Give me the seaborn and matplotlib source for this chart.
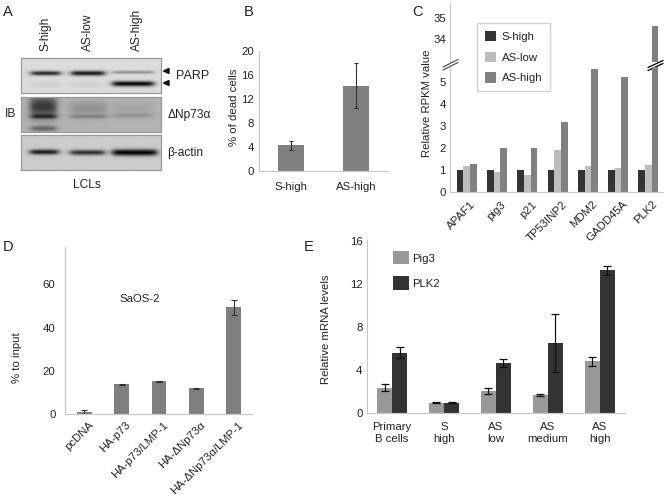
import numpy as np
import pandas as pd
import matplotlib
matplotlib.use("Agg")
import matplotlib.pyplot as plt
from matplotlib.lines import Line2D
from matplotlib.patches import Polygon, Patch
from matplotlib.transforms import ScaledTranslation
import seaborn as sns

sns.set_theme(style="white")
plt.rcParams['font.family'] = ['Liberation Sans', 'DejaVu Sans']
plt.rcParams['font.size'] = 8.2
plt.rcParams['text.color'] = '#222222'
plt.rcParams['axes.labelcolor'] = '#222222'
plt.rcParams['xtick.color'] = '#222222'
plt.rcParams['ytick.color'] = '#222222'

W, H = 667, 497
fig = plt.figure(figsize=(W / 100, H / 100), dpi=100)
SPINE = '#c9c9c9'
FS = 8.2

# ---- data ----
b_groups = ['S-high', 'AS-high']
b_vals = [4.25, 14.2]
b_low = [3.5, 10.5]
b_high = [4.93, 18.0]

c_genes = ['APAF1', 'pig3', 'p21', 'TP53INP2', 'MDM2', 'GADD45A', 'PLK2']
c_shigh = [1, 1, 1, 1, 1, 1, 1]
c_aslow = [1.2, 0.93, 0.78, 1.9, 1.2, 1.1, 1.25]
c_ashigh = [1.28, 2.0, 2.0, 3.2, 5.6, 5.2, 34.6]
c_series = ['S-high', 'AS-low', 'AS-high']

d_groups = ['pcDNA', 'HA-p73', 'HA-p73/LMP-1', 'HA-ΔNp73α', 'HA-ΔNp73α/LMP-1']
d_vals = [1.0, 13.8, 15.3, 12.0, 49.3]
d_err = [1.2, 0.2, 0.2, 0.3, 3.3]

e_groups = ['Primary\nB cells', 'S\nhigh', 'AS\nlow', 'AS\nmedium', 'AS\nhigh']
e_pig3 = [2.35, 0.95, 2.05, 1.65, 4.8]
e_pig3_err = [0.3, 0.03, 0.3, 0.1, 0.45]
e_plk2 = [5.6, 0.95, 4.65, 6.5, 13.3]
e_plk2_err = [0.5, 0.03, 0.4, 2.7, 0.45]

# blot bands: panel, lane start, lane end (px), row (px), half-height, darkness
blot_bands = [
    (0, 31, 60, 73.5, 2.2, 0.72), (0, 71, 104, 73.5, 2.4, 0.78), (0, 112, 153, 72.5, 1.6, 0.30),
    (0, 112, 153, 84, 2.6, 0.85), (0, 32, 60, 85, 3.0, 0.05), (0, 72, 100, 85, 3.0, 0.05),
    (1, 31, 56, 116, 2.2, 0.38), (1, 31, 56, 128, 2.8, 0.30), (1, 30, 56, 106, 11.0, 0.48),
    (1, 70, 106, 116, 2.0, 0.16), (1, 70, 106, 108, 8.0, 0.12), (1, 112, 152, 115, 2.2, 0.10),
    (1, 112, 152, 108, 8.0, 0.05),
    (2, 30, 58, 152.5, 2.6, 0.70), (2, 70, 104, 153, 2.6, 0.62), (2, 112, 156, 153, 3.2, 0.80),
]
blot_boxes = [(21, 160.5, 58.5, 93.2, 0.86), (21, 160.5, 96.7, 131.7, 0.70), (21, 160.5, 135, 170.3, 0.80)]


def px_axes(left, right, top, bottom):
    return fig.add_axes([left / W, 1 - bottom / H, (right - left) / W, (bottom - top) / H])


def fx(x):
    return x / W


def fy(y):
    return 1 - y / H


def ftext(x, y, s, **kw):
    kw.setdefault('fontsize', FS)
    kw.setdefault('va', 'center')
    kw.setdefault('ha', 'left')
    return fig.text(fx(x), fy(y), s, **kw)


def style(ax):
    sns.despine(ax=ax)
    for s in ['left', 'bottom']:
        ax.spines[s].set_color(SPINE)
        ax.spines[s].set_linewidth(0.9)
    ax.set_xlabel('')
    ax.set_ylabel('')
    ax.tick_params(axis='both', length=0, labelsize=FS, pad=3)


def nudge_labels(ax, dx_px):
    for lab in ax.get_xticklabels():
        lab.set_transform(lab.get_transform() + ScaledTranslation(dx_px / 100, 0, fig.dpi_scale_trans))


def slash(x0, y0, x1, y1, color='#555555', lw=0.9):
    fig.add_artist(Line2D([fx(x0), fx(x1)], [fy(y0), fy(y1)], color=color, lw=lw, transform=fig.transFigure))


# ---- panel A ----
for i, (l, r, t, b, base) in enumerate(blot_boxes):
    ax = px_axes(l, r, t, b)
    xs = np.arange(l, r, 0.5)
    ys = np.arange(t, b, 0.5)
    X, Y = np.meshgrid(xs, ys)
    img = np.full(X.shape, base)
    for p, x0, x1, yc, hh, dk in blot_bands:
        if p != i:
            continue
        mask = 0.5 * (np.tanh((X - x0) / 4.0) - np.tanh((X - x1) / 4.0))
        img = img - dk * mask * np.exp(-((Y - yc) / hh) ** 2)
    ax.imshow(np.clip(img, 0.03, 1), cmap='gray', vmin=0, vmax=1, aspect='auto', extent=(l, r, b, t), interpolation='bilinear')
    ax.set_xticks([])
    ax.set_yticks([])
    for s in ax.spines.values():
        s.set_color('#9a9a9a')
        s.set_linewidth(0.9)

for x, s in [(45.7, 'S-high'), (88, 'AS-low'), (137, 'AS-high')]:
    ftext(x, 51, s, rotation=90, ha='center', va='bottom', fontsize=8.6)
ftext(175.7, 76, 'PARP', fontsize=9)
ftext(167.5, 115, 'ΔNp73α', fontsize=8.6)
ftext(167.5, 153, 'β-actin', fontsize=8.6)
ftext(5, 114, 'IB', fontsize=8.6)
ftext(87, 185, 'LCLs', ha='center', fontsize=8.6)
for y in (71, 83):
    fig.add_artist(Polygon([(fx(163.5), fy(y)), (fx(169), fy(y - 2.5)), (fx(169), fy(y + 2.5))],
                           closed=True, color='#111111', transform=fig.transFigure))

# ---- panel B ----
ax = px_axes(258.5, 388, 50.7, 171)
sns.barplot(data=pd.DataFrame({'group': b_groups, 'value': b_vals}), x='group', y='value',
            color='#7f7f7f', saturation=1, width=0.4, errorbar=None, linewidth=0, ax=ax)
ax.errorbar(range(2), b_vals,
            yerr=[np.array(b_vals) - np.array(b_low), np.array(b_high) - np.array(b_vals)],
            fmt='none', ecolor='#333333', elinewidth=0.8, capsize=1.3, capthick=0.8)
ax.set_xlim(-0.5, 1.49)
ax.set_ylim(0, 20)
ax.set_yticks([0, 4, 8, 12, 16, 20])
style(ax)
ax.set_yticks([2, 6, 10, 14, 18], minor=True)
ax.tick_params(axis='y', which='minor', length=2, width=0.6, color='#dddddd')
ax.tick_params(axis='x', pad=8)
ftext(234, 107, '% of dead cells', rotation=90, ha='center')

# ---- panel C ----
c_df = pd.DataFrame({'gene': c_genes * 3,
                     'series': np.repeat(c_series, len(c_genes)),
                     'value': c_shigh + c_aslow + c_ashigh})
c_pal = {'S-high': '#333333', 'AS-low': '#bdbdbd', 'AS-high': '#808080'}
ax_lo = px_axes(450, 663, 67, 192.3)
ax_hi = px_axes(450, 663, 3, 62)
for a in (ax_lo, ax_hi):
    sns.barplot(data=c_df, x='gene', y='value', hue='series', palette=c_pal, saturation=1,
                width=0.66, errorbar=None, linewidth=0, ax=a, legend=False)
    a.set_xlim(-0.55, 6.48)
    style(a)
ax_lo.set_ylim(0, 125.3 / 22.1)
ax_lo.set_yticks([0, 1, 2, 3, 4, 5])
ax_hi.set_ylim(34 - 22.7 / 21.6, 34 + 36.3 / 21.6)
ax_hi.set_yticks([34, 35])
ax_hi.set_xticks([])
ax_hi.spines['bottom'].set_visible(False)
ax_lo.set_xticks(range(7))
ax_lo.set_xticklabels(c_genes, rotation=45, ha='right', rotation_mode='anchor')
ax_lo.tick_params(axis='x', pad=5)
nudge_labels(ax_lo, 4)
ax_lo.patch.set_alpha(0)
ax_lo.set_zorder(3)
leg = ax_lo.legend(handles=[Patch(facecolor=c_pal[s], edgecolor='none', label=s) for s in c_series],
                   loc='upper left', bbox_to_anchor=(fx(477.3), fy(23.3)), bbox_transform=fig.transFigure,
                   frameon=True, fancybox=False, edgecolor='#d0d0d0', framealpha=1, fontsize=FS,
                   handlelength=0.98, handleheight=0.98, labelspacing=0.85, handletextpad=0.45,
                   borderpad=0.7, borderaxespad=0)
ftext(427, 103, 'Relative RPKM value', rotation=90, ha='center')
slash(443, 70, 458, 62.5)
slash(443, 67, 458, 59.5)
slash(648, 70.5, 663, 63.5, color='#111111', lw=1.0)
slash(648, 67.5, 663, 60.5, color='#111111', lw=1.0)

# ---- panel D ----
ax = px_axes(65.3, 252, 247.3, 414.3)
sns.barplot(data=pd.DataFrame({'group': d_groups, 'value': d_vals}), x='group', y='value',
            color='#7f7f7f', saturation=1, width=0.39, errorbar=None, linewidth=0, ax=ax)
ax.errorbar(range(5), d_vals, yerr=d_err, fmt='none', ecolor='#333333', elinewidth=0.8, capsize=2.5, capthick=0.8)
ax.set_xlim(-0.51, 4.49)
ax.set_ylim(0, 167 / (130 / 60))
ax.set_yticks([0, 20, 40, 60])
style(ax)
ax.set_xticks(range(5))
ax.set_xticklabels(d_groups, rotation=45, ha='right', rotation_mode='anchor')
ax.tick_params(axis='x', pad=4)
ax.tick_params(axis='y', pad=7)
nudge_labels(ax, 4)
ftext(17, 358, '% to input', rotation=90, ha='center')
ftext(140, 299, 'SaOS-2', ha='center')

# ---- panel E ----
e_df = pd.DataFrame({'group': e_groups * 2,
                     'series': np.repeat(['Pig3', 'PLK2'], 5),
                     'value': e_pig3 + e_plk2})
e_pal = {'Pig3': '#999999', 'PLK2': '#333333'}
ax = px_axes(366.7, 625, 240, 412.7)
sns.barplot(data=e_df, x='group', y='value', hue='series', palette=e_pal, saturation=1,
            width=0.58, errorbar=None, linewidth=0, ax=ax, legend=False)
off = 0.58 / 4
ax.errorbar(np.arange(5) - off, e_pig3, yerr=e_pig3_err, fmt='none', ecolor='#111111', elinewidth=0.9, capsize=3, capthick=0.9)
ax.errorbar(np.arange(5) + off, e_plk2, yerr=e_plk2_err, fmt='none', ecolor='#111111', elinewidth=0.9, capsize=3, capthick=0.9)
ax.set_xlim(-0.49, 4.49)
ax.set_ylim(0, 172.7 / (128.4 / 12))
ax.set_yticks([0, 4, 8, 12, 16])
style(ax)
ax.tick_params(axis='x', pad=7)
ax.legend(handles=[Patch(facecolor=e_pal[s], edgecolor='none', label=s) for s in ['Pig3', 'PLK2']],
          loc='upper left', bbox_to_anchor=(fx(392.7), fy(251.3)), bbox_transform=fig.transFigure,
          frameon=False, fontsize=FS, handlelength=1.4, handleheight=1.4, labelspacing=1.05,
          handletextpad=0.3, borderpad=0, borderaxespad=0)
ftext(326, 329, 'Relative mRNA levels', rotation=90, ha='center')

# ---- panel letters ----
for x, y, s in [(3, 12, 'A'), (244, 12, 'B'), (412, 12, 'C'), (3, 247, 'D'), (304, 247, 'E')]:
    ftext(x, y, s, fontsize=10.5)

fig.savefig('out.png', dpi=100, facecolor='white')
